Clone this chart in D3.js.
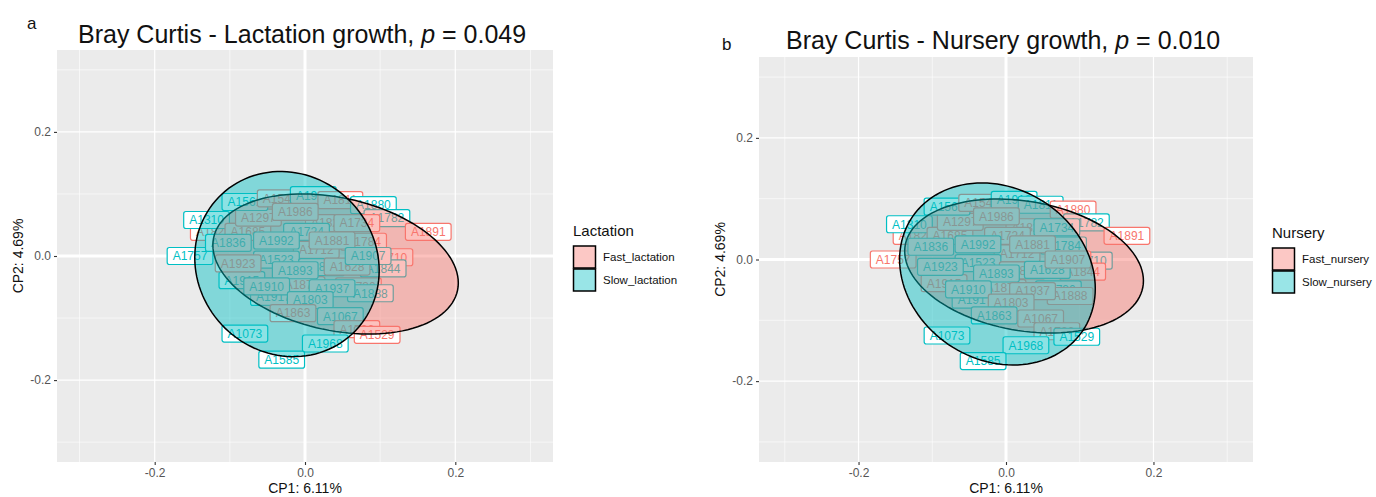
<!DOCTYPE html>
<html>
<head>
<meta charset="utf-8">
<script src="https://cdn.jsdelivr.net/npm/d3@7"></script>
<style>
  html, body { margin: 0; padding: 0; background: #fff; }
  svg { display: block; font-family: "Liberation Sans", Arial, Helvetica, sans-serif; }
</style>
</head>
<body>
<svg id="chart" width="1376" height="497"></svg>
<script>
// ---------------- DATA ----------------
const sampleIds = ["A1823","A1757","A1310","A1685","A1297","A1561","A1547","A1918","A1811","A1880",
  "A1782","A1820","A1724","A1712","A1784","A1734","A1986","A1523","A1889","A1710",
  "A1844","A1628","A1915","A1917","A1876","A1730","A1888","A1923","A1836","A1992",
  "A1881","A1907","A1893","A1910","A1937","A1803","A1863","A1067","A1726","A1529",
  "A1073","A1968","A1585","A1891"];
const cp1 = [-0.122,-0.153,-0.131,-0.076,-0.062,-0.080,-0.033,0.011,0.047,0.091,
  0.109,0.031,0.002,0.015,0.078,0.069,-0.013,-0.038,0.022,0.113,
  0.104,0.056,-0.084,-0.042,-0.004,0.071,0.087,-0.089,-0.102,-0.038,
  0.036,0.084,-0.013,-0.051,0.036,0.007,-0.016,0.047,0.069,0.096,
  -0.080,0.027,-0.031,0.164];
const cp2 = [0.039,0.000,0.058,0.039,0.062,0.087,0.093,0.098,0.090,0.082,
  0.061,0.053,0.039,0.010,0.023,0.053,0.071,-0.006,-0.018,-0.002,
  -0.020,-0.017,-0.039,-0.066,-0.047,-0.049,-0.060,-0.012,0.021,0.025,
  0.025,0.000,-0.023,-0.049,-0.052,-0.071,-0.092,-0.097,-0.118,-0.127,
  -0.125,-0.141,-0.167,0.039];
const lactationGroup = ["F","S","S","F","F","S","F","S","F","S",
  "S","F","S","F","F","F","F","S","S","F",
  "S","F","S","S","F","F","S","F","S","S",
  "F","S","S","S","S","S","F","S","F","F",
  "S","S","S","F"];
const nurseryGroup = ["F","F","S","F","F","S","F","S","S","F",
  "S","F","F","F","S","S","F","S","F","S",
  "F","S","F","S","F","S","F","S","S","S",
  "F","F","S","S","F","F","S","F","F","S",
  "S","S","S","F"];

const lactationLevels = ["Fast_lactation","Slow_lactation"];
const nurseryLevels = ["Fast_nursery","Slow_nursery"];

// 95% ellipses: centre, spread along CP1/CP2, correlation (per group: Fast, Slow)
const lactEllipseCx = [0.0407, -0.024];
const lactEllipseCy = [-0.0129, -0.013];
const lactEllipseSx = [0.1633, 0.1227];
const lactEllipseSy = [0.1129, 0.1492];
const lactEllipseRho = [-0.27, -0.07];

const nurEllipseCx = [0.0245, -0.0116];
const nurEllipseCy = [-0.0107, -0.0238];
const nurEllipseSx = [0.1619, 0.1327];
const nurEllipseSy = [0.1102, 0.1497];
const nurEllipseRho = [-0.22, -0.16];

const xTicks = [-0.2, 0.0, 0.2];
const yTicks = [-0.2, 0.0, 0.2];
const xMinor = [-0.3, -0.1, 0.1, 0.3];
const yMinor = [-0.3, -0.1, 0.1, 0.3];

const panels = [
  { letter: "a", name: "Lactation", p: "0.049", groups: lactationGroup, levels: lactationLevels,
    ell: { cx: lactEllipseCx, cy: lactEllipseCy, sx: lactEllipseSx, sy: lactEllipseSy, rho: lactEllipseRho },
    box: { x0: 57, x1: 553, y0: 50, y1: 462, xd: 0.33, yd: 0.332 },
    titleX: 78, titleY: 43, letterX: 27, letterY: 29, legendX: 573, legendY: 236 },
  { letter: "b", name: "Nursery", p: "0.010", groups: nurseryGroup, levels: nurseryLevels,
    ell: { cx: nurEllipseCx, cy: nurEllipseCy, sx: nurEllipseSx, sy: nurEllipseSy, rho: nurEllipseRho },
    box: { x0: 759, x1: 1253, y0: 57, y1: 462, xd: 0.335, yd: 0.333 },
    titleX: 786, titleY: 49, letterX: 722, letterY: 50, legendX: 1272, legendY: 238 }
];

const fastCol = "#F8766D", slowCol = "#00BFC4";
const svg = d3.select("#chart");

panels.forEach(P => {
  const g = svg.append("g");
  const x = d3.scaleLinear().domain([-P.box.xd, P.box.xd]).range([P.box.x0, P.box.x1]);
  const y = d3.scaleLinear().domain([-P.box.yd, P.box.yd]).range([P.box.y1, P.box.y0]);

  // panel background
  g.append("rect").attr("x", P.box.x0).attr("y", P.box.y0)
    .attr("width", P.box.x1 - P.box.x0).attr("height", P.box.y1 - P.box.y0)
    .attr("fill", "#EBEBEB");
  // grid
  g.selectAll(".vmin").data(xMinor).join("line")
    .attr("x1", d => x(d)).attr("x2", d => x(d)).attr("y1", P.box.y0).attr("y2", P.box.y1)
    .attr("stroke", "#fff").attr("stroke-width", 0.6);
  g.selectAll(".hmin").data(yMinor).join("line")
    .attr("y1", d => y(d)).attr("y2", d => y(d)).attr("x1", P.box.x0).attr("x2", P.box.x1)
    .attr("stroke", "#fff").attr("stroke-width", 0.6);
  g.selectAll(".vmaj").data(xTicks).join("line")
    .attr("x1", d => x(d)).attr("x2", d => x(d)).attr("y1", P.box.y0).attr("y2", P.box.y1)
    .attr("stroke", "#fff").attr("stroke-width", d => d === 0 ? 3 : 1.2);
  g.selectAll(".hmaj").data(yTicks).join("line")
    .attr("y1", d => y(d)).attr("y2", d => y(d)).attr("x1", P.box.x0).attr("x2", P.box.x1)
    .attr("stroke", "#fff").attr("stroke-width", d => d === 0 ? 3 : 1.2);

  // axes
  const fmt = d => d.toFixed(1);
  const ax = g.append("g").attr("transform", `translate(0,${P.box.y1})`)
    .call(d3.axisBottom(x).tickValues(xTicks).tickFormat(fmt).tickSize(3).tickPadding(3));
  const ay = g.append("g").attr("transform", `translate(${P.box.x0},0)`)
    .call(d3.axisLeft(y).tickValues(yTicks).tickFormat(fmt).tickSize(3).tickPadding(3));
  [ax, ay].forEach(a => {
    a.select(".domain").remove();
    a.selectAll(".tick line").attr("stroke", "#333").attr("stroke-width", 1.1);
    a.selectAll(".tick text").attr("fill", "#555").attr("font-size", 12)
      .attr("font-family", "'Liberation Sans', Arial, sans-serif");
  });

  // axis titles
  g.append("text").attr("x", (P.box.x0 + P.box.x1) / 2).attr("y", 493)
    .attr("text-anchor", "middle").attr("font-size", 14).attr("fill", "#111").text("CP1: 6.11%");
  const ycen = (P.box.y0 + P.box.y1) / 2;
  g.append("text").attr("transform", `translate(${P.box.x0 - 34},${ycen}) rotate(-90)`)
    .attr("text-anchor", "middle").attr("font-size", 14).attr("fill", "#111").text("CP2: 4.69%");

  // title
  const t = g.append("text").attr("x", P.titleX).attr("y", P.titleY).attr("font-size", 25).attr("fill", "#111");
  t.append("tspan").text(`Bray Curtis - ${P.name} growth, `);
  t.append("tspan").attr("font-style", "italic").text("p");
  t.append("tspan").text(` = ${P.p}`);
  g.append("text").attr("x", P.letterX).attr("y", P.letterY).attr("font-size", 17).attr("fill", "#111").text(P.letter);

  // labels
  const rows = sampleIds.map((id, i) => ({ id, cx: cp1[i], cy: cp2[i], grp: P.groups[i] }));
  const lab = g.append("g").selectAll("g").data(rows).join("g")
    .attr("transform", d => `translate(${x(d.cx)},${y(d.cy)})`);
  lab.each(function (d) {
    const gg = d3.select(this);
    const col = d.grp === "F" ? fastCol : slowCol;
    const rect = gg.append("rect");
    const txt = gg.append("text").attr("text-anchor", "middle").attr("dy", "0.36em")
      .attr("font-size", 12).attr("fill", col).text(d.id);
    const w = txt.node().getComputedTextLength() + 11;
    const h = 17;
    rect.attr("x", -w / 2).attr("y", -h / 2).attr("width", w).attr("height", h)
      .attr("rx", 2.2).attr("ry", 2.2).attr("fill", "#fff").attr("stroke", col).attr("stroke-width", 1.2);
  });

  // ellipses
  const ells = [0, 1].map(k => {
    const pts = d3.range(0, 121).map(j => {
      const a = j / 120 * 2 * Math.PI;
      const sx = P.ell.sx[k], sy = P.ell.sy[k], r = P.ell.rho[k];
      return [P.ell.cx[k] + sx * Math.cos(a),
              P.ell.cy[k] + sy * (r * Math.cos(a) + Math.sqrt(1 - r * r) * Math.sin(a))];
    });
    return { k, pts };
  });
  const line = d3.line().x(d => x(d[0])).y(d => y(d[1])).curve(d3.curveLinearClosed);
  g.append("g").selectAll("path").data(ells).join("path")
    .attr("d", d => line(d.pts))
    .attr("fill", d => d.k === 0 ? fastCol : slowCol).attr("fill-opacity", 0.45)
    .attr("stroke", "#000").attr("stroke-width", 1.5);

  // legend
  const lg = g.append("g").attr("transform", `translate(${P.legendX},${P.legendY})`);
  lg.append("text").attr("x", 0).attr("y", 0).attr("font-size", 15).attr("fill", "#111").text(P.name);
  P.levels.forEach((lv, i) => {
    const yy = 10 + i * 23;
    lg.append("rect").attr("x", 0.5).attr("y", yy).attr("width", 22).attr("height", 22)
      .attr("fill", "#fff");
    lg.append("rect").attr("x", 0.5).attr("y", yy).attr("width", 22).attr("height", 22)
      .attr("fill", i === 0 ? fastCol : slowCol).attr("fill-opacity", 0.4)
      .attr("stroke", "#000").attr("stroke-width", 1.5);
    lg.append("text").attr("x", 30).attr("y", yy + 11).attr("dy", "0.35em")
      .attr("font-size", 11.5).attr("fill", "#111").text(lv);
  });
});
</script>
</body>
</html>
